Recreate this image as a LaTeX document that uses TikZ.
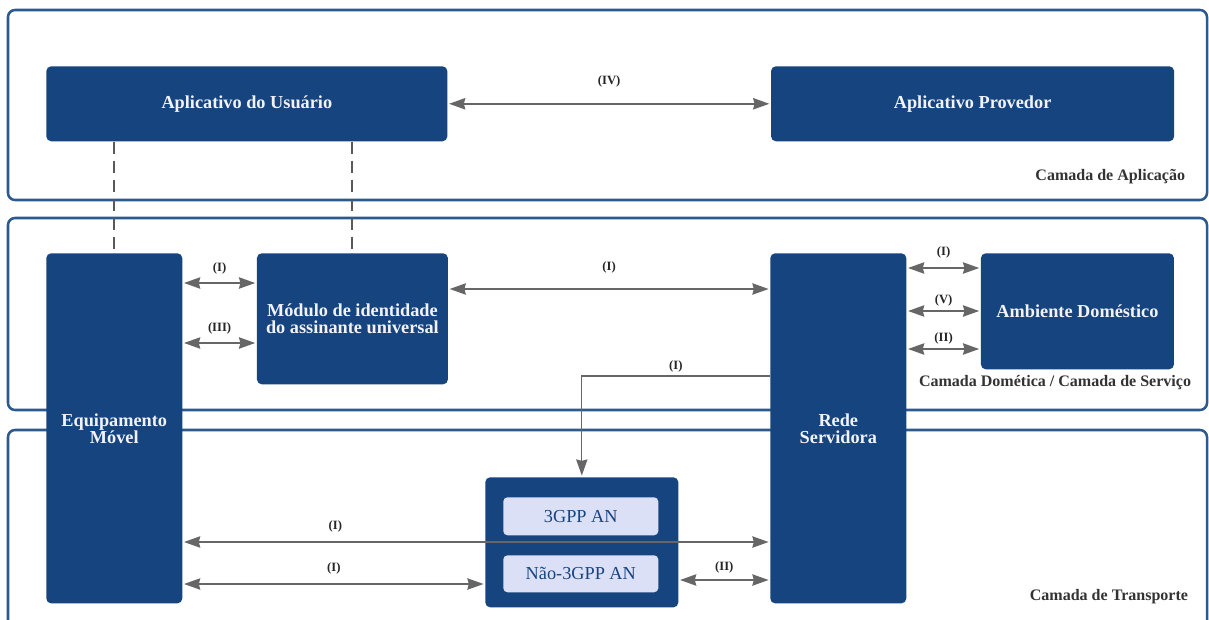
\documentclass[tikz,border=0pt]{standalone}
\usepackage{fontspec}
\setmainfont{Liberation Serif}
\usetikzlibrary{positioning,arrows.meta}
\definecolor{boxblue}{HTML}{15447F}
\definecolor{layerblue}{HTML}{2D5A8C}
\definecolor{linkgray}{HTML}{666666}
\definecolor{anfill}{HTML}{DCE0F7}
\definecolor{boxtext}{HTML}{F2F2FB}
\tikzset{
  ue layer/.style={draw=layerblue, line width=1.8pt, rounded corners=5pt, fill=white},
  ue block/.style={rectangle, fill=boxblue, rounded corners=3.5pt, text=boxtext, align=center, inner sep=0pt, anchor=north west, font=\fontsize{13}{12}\selectfont\bfseries},
  ue inner/.style={rectangle, fill=anfill, rounded corners=3pt, text=boxblue, inner sep=0pt, anchor=north west, minimum width=3.875cm, font=\fontsize{13}{14}\selectfont},
  ue link/.style={draw=linkgray, line width=1.4pt, shorten <=1pt, shorten >=1pt, {Stealth[length=11.5pt,width=8pt,inset=1pt]}-{Stealth[length=11.5pt,width=8pt,inset=1pt]}},
  ue flow/.style={draw=linkgray, line width=0.9pt, shorten >=1pt, -{Stealth[length=11.5pt,width=8pt,inset=1pt]}},
  ue dash/.style={draw=black!65, line width=1.4pt, dash pattern=on 9pt off 4.5pt},
  ue tag/.style={font=\fontsize{9}{10}\selectfont\bfseries, text=black!85, inner sep=1pt},
  ue layer name/.style={font=\fontsize{11.4}{12}\selectfont\bfseries, text=black!80, anchor=east}
}

\begin{document}
\begin{tikzpicture}[x=0.025cm, y=-0.025cm]
    \useasboundingbox (0,0) rectangle (1209,619);

    % Layers
    \draw [ue layer] (8,10) rectangle (1207,200);
    \draw [ue layer] (8,218) rectangle (1207,410);
    \draw [ue layer] (8,430) rectangle (1207,640);
    \node [ue layer name] (LApp) at (1190,177) {Camada de Aplica\c{c}\~ao};
    \node [ue layer name] (LServ) at (1196,383) {Camada Dom\'etica / Camada de Servi\c{c}o};
    \node [ue layer name] (LTransp) at (1193,597) {Camada de Transporte};

    % Application layer
    \node [ue block, minimum width=10.025cm, minimum height=1.875cm] (AppUser) at (46,66) {Aplicativo do Usu\'ario};
    \node [ue block, minimum width=10.075cm, minimum height=1.875cm, right=8.075cm of AppUser] (AppProv) {Aplicativo Provedor};

    % Home / service layer
    \node [ue block, minimum width=3.4cm, minimum height=8.75cm] (Equip) at (46,253) {Equipamento\\M\'ovel};
    \node [ue block, minimum width=4.775cm, minimum height=3.275cm, right=1.85cm of Equip.north east, anchor=north west] (Usim) {M\'odulo de identidade\\do assinante universal};
    \node [ue block, minimum width=3.4cm, minimum height=8.75cm] (Rede) at (770,253) {Rede\\Servidora};
    \node [ue block, minimum width=4.825cm, minimum height=2.9cm, right=1.85cm of Rede.north east, anchor=north west] (Amb) {Ambiente Dom\'estico};

    % Access network
    \node [ue block, minimum width=4.825cm, minimum height=3.25cm] (AN) at (485,477) {};
    \node [ue inner, minimum height=0.95cm] (AN3) at (503,497) {3GPP AN};
    \node [ue inner, minimum height=0.925cm] (ANnon) at (503,555) {N\~ao-3GPP AN};

    % Dashed links to the user application
    \draw [ue dash] (AppUser.south -| Equip.north) -- (Equip.north);
    \draw [ue dash] (AppUser.south -| Usim.north) -- (Usim.north);

    % Reference points
    \draw [ue link] (AppUser.east) -- (AppProv.west) node[ue tag, midway, above=10pt] {(IV)};
    \draw [ue link] (Equip.east |- 0,283) -- (Usim.west |- 0,283) node[ue tag, midway, above=4.5pt] {(I)};
    \draw [ue link] (Equip.east |- 0,343) -- (Usim.west |- 0,343) node[ue tag, midway, above=4.5pt] {(III)};
    \draw [ue link] (Usim.east |- 0,289) -- (Rede.west |- 0,289) node[ue tag, midway, above=9.4pt] {(I)};
    \draw [ue link] (Rede.east |- 0,268) -- (Amb.west |- 0,268) node[ue tag, midway, above=5pt] {(I)};
    \draw [ue link] (Rede.east |- 0,311) -- (Amb.west |- 0,311) node[ue tag, midway, above=1.5pt] {(V)};
    \draw [ue link] (Rede.east |- 0,349) -- (Amb.west |- 0,349) node[ue tag, midway, above=2pt] {(II)};
    \draw [ue flow] (Rede.west |- 0,376) -| (AN.north) node[ue tag, pos=0.25, above=1.6pt] {(I)};
    \draw [ue link] (Equip.east |- 0,542) -- (Rede.west |- 0,542) node[ue tag, pos=0.26, above=5pt] {(I)};
    \draw [ue link] (Equip.east |- 0,584) -- (AN.west |- 0,584) node[ue tag, midway, above=5.6pt] {(I)};
    \draw [ue link] (AN.east |- 0,580) -- (Rede.west |- 0,580) node[ue tag, midway, above=3pt] {(II)};
\end{tikzpicture}
\end{document}
